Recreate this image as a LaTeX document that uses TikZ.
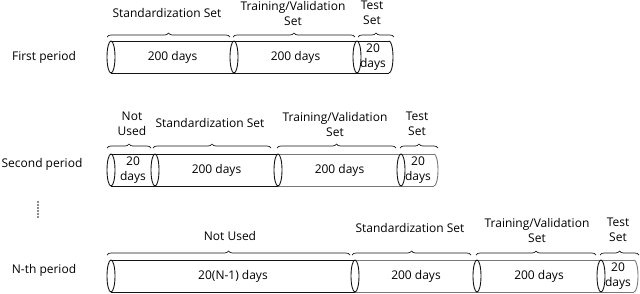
\documentclass[tikz,border=0pt]{standalone}
\usepackage{fontspec}
\setmainfont{Open Sans}
\definecolor{Ink}{RGB}{20, 20, 20}
\definecolor{Pale}{RGB}{120, 120, 120}
\usetikzlibrary{positioning, decorations.pathreplacing}

% one cylinder segment: left face, top and bottom edges
\newcommand{\cylseg}[4]{% x start, x end, y top, colour
    \draw[#4, line width=0.9pt] (#1,#3) -- (#2,#3);
    \draw[#4, line width=0.9pt] (#1,#3+32) -- (#2,#3+32);
    \draw[Ink, line width=0.9pt] (#1,#3+16) ellipse [x radius=4pt, y radius=16pt];
}

\begin{document}
\begin{tikzpicture}[x=1pt, y=-1pt,
    every node/.style={font=\fontsize{12}{15}\selectfont, inner sep=0pt},
    twoline/.style={align=center},
    setbrace/.style={decorate, decoration={brace, amplitude=4pt}, Ink, line width=0.7pt}]
    \useasboundingbox (0,0) rectangle (640,293);

    % ---- First period ----
    \node (p1) at (44,57) {First period};
    \cylseg{111}{234}{41}{Ink}
    \cylseg{234}{357}{41}{Ink}
    \cylseg{357}{389}{41}{Ink}
    \draw[Ink, line width=0.9pt] (389,41) arc [start angle=90, end angle=-90, x radius=4pt, y radius=16pt];
    \node (p1std) at (172.5,57) {200 days};
    \node (p1trn) at (295.5,57) {200 days};
    \node[twoline] (p1tst) at (373,57.5) {20\\days};
    \coordinate (b1a) at (107,37);  \coordinate (b1b) at (230,37);
    \coordinate (b1c) at (233,37);  \coordinate (b1d) at (355,37);
    \coordinate (b1e) at (358,37);  \coordinate (b1f) at (394,37);
    \draw[setbrace] (b1a) -- (b1b);
    \draw[setbrace] (b1c) -- (b1d);
    \draw[setbrace] (b1e) -- (b1f);
    \node (l1std) at (167,13) {Standardization Set};
    \node[twoline] (l1trn) at (293,13) {Training/Validation\\Set};
    \node[twoline] (l1tst) at (372,13) {Test\\Set};

    % ---- Second period ----
    \node (p2) at (42,164) {Second period};
    \cylseg{111}{155}{154}{Ink}
    \cylseg{155}{278}{154}{Ink}
    \cylseg{278}{401}{154}{Pale}
    \cylseg{401}{434}{154}{Pale}
    \draw[Pale, line width=0.9pt] (434,154) arc [start angle=90, end angle=-90, x radius=4pt, y radius=16pt];
    \node[twoline] (p2nu) at (133,170.5) {20\\days};
    \node (p2std) at (216.5,170) {200 days};
    \node (p2trn) at (339.5,170) {200 days};
    \node[twoline] (p2tst) at (418,170.5) {20\\days};
    \coordinate (b2a) at (107,148);  \coordinate (b2b) at (151,148);
    \coordinate (b2c) at (153,148);  \coordinate (b2d) at (271,148);
    \coordinate (b2e) at (277,148);  \coordinate (b2f) at (396,148);
    \coordinate (b2g) at (400,148);  \coordinate (b2h) at (438,148);
    \draw[setbrace] (b2a) -- (b2b);
    \draw[setbrace] (b2c) -- (b2d);
    \draw[setbrace] (b2e) -- (b2f);
    \draw[setbrace] (b2g) -- (b2h);
    \node[twoline] (l2nu) at (132,124) {Not\\Used};
    \node (l2std) at (210,123) {Standardization Set};
    \node[twoline] (l2trn) at (335,124) {Training/Validation\\Set};
    \node[twoline] (l2tst) at (417,124) {Test\\Set};

    % vertical dots between periods
    \foreach \d in {202,205,...,217} {
        \fill[Ink] (38,\d) circle [radius=0.8pt];
    }

    % ---- N-th period ----
    \node (pn) at (44,270) {N-th period};
    \cylseg{111}{355}{260}{Ink}
    \cylseg{355}{477}{260}{Pale}
    \cylseg{477}{601}{260}{Pale}
    \cylseg{601}{634}{260}{Pale}
    \draw[Pale, line width=0.9pt] (634,260) arc [start angle=90, end angle=-90, x radius=4pt, y radius=16pt];
    \node (pnnu) at (233,276) {20(N-1) days};
    \node (pnstd) at (416,276) {200 days};
    \node (pntrn) at (539,276) {200 days};
    \node[twoline] (pntst) at (618,276.5) {20\\days};
    \coordinate (bna) at (107,255);  \coordinate (bnb) at (350,255);
    \coordinate (bnc) at (352,255);  \coordinate (bnd) at (471,255);
    \coordinate (bne) at (476,255);  \coordinate (bnf) at (596,255);
    \coordinate (bng) at (600,255);  \coordinate (bnh) at (639,255);
    \draw[setbrace] (bna) -- (bnb);
    \draw[setbrace] (bnc) -- (bnd);
    \draw[setbrace] (bne) -- (bnf);
    \draw[setbrace] (bng) -- (bnh);
    \node (lnnu) at (230,236) {Not Used};
    \node (lnstd) at (410,228) {Standardization Set};
    \node[twoline] (lntrn) at (537,230) {Training/Validation\\Set};
    \node[twoline] (lntst) at (618,230) {Test\\Set};
\end{tikzpicture}
\end{document}
